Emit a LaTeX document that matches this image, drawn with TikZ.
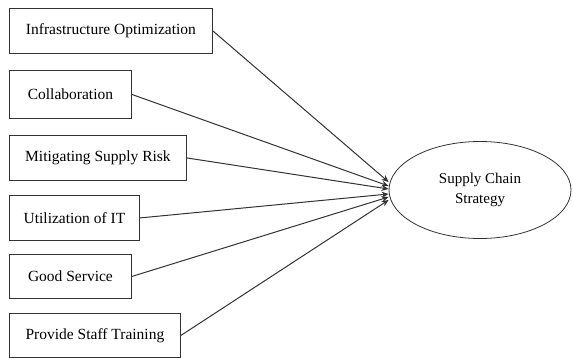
\documentclass[tikz,border=0pt]{standalone}
\usepackage{fontspec}
\setmainfont{Liberation Serif}
\usetikzlibrary{shapes.geometric,arrows.meta}
\definecolor{CLine}{HTML}{333333}

\begin{document}
\begin{tikzpicture}[x=1pt, y=-1pt,
    factor/.style={draw=CLine, line width=0.9pt, rectangle, anchor=north west, minimum height=45pt, inner sep=0pt, font=\fontsize{15.5}{18}\selectfont},
    goal/.style={draw=CLine, line width=0.8pt, ellipse, minimum width=182pt, minimum height=97pt, inner sep=0pt, align=center, font=\fontsize{15}{20}\selectfont},
    arr/.style={draw=CLine, line width=1pt, -{Stealth[length=7pt, width=6pt]}}
]
  \useasboundingbox (0,0) rectangle (573,358);
  \node[factor, minimum width=203pt] (infra) at (9,8) {Infrastructure Optimization};
  \node[factor, minimum width=122pt, minimum height=48pt] (collab) at (9,70) {Collaboration};
  \node[factor, minimum width=177pt] (risk) at (9,135) {Mitigating Supply Risk};
  \node[factor, minimum width=130pt] (it) at (9,195) {Utilization of IT};
  \node[factor, minimum width=122pt, minimum height=44pt] (service) at (9,254) {Good Service};
  \node[factor, minimum width=171pt, minimum height=44pt] (train) at (9,313) {Provide Staff Training};
  \node[goal] (scs) at (480,190) {Supply Chain\\Strategy};
  % factors into strategy
  \draw[arr] (infra.east) -- ([yshift=8pt]scs.west);
  \draw[arr] (collab.east) -- ([yshift=4pt]scs.west);
  \draw[arr] (risk.east) -- ([yshift=1pt]scs.west);
  \draw[arr] (it.east) -- ([yshift=-4pt]scs.west);
  \draw[arr] (service.east) -- ([yshift=-7pt]scs.west);
  \draw[arr] (train.east) -- ([yshift=-10pt]scs.west);
\end{tikzpicture}
\end{document}
